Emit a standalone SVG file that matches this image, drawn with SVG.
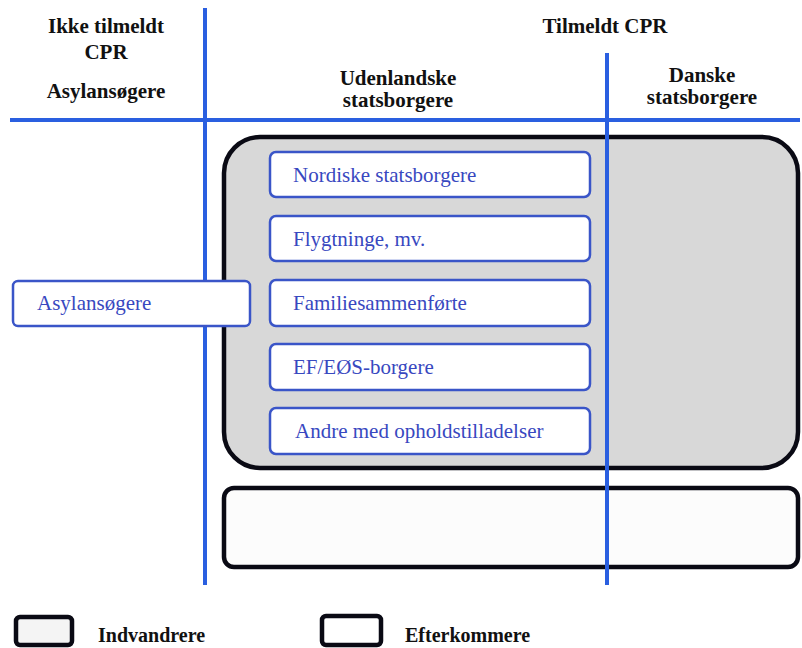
<svg xmlns="http://www.w3.org/2000/svg" width="802" height="648" viewBox="0 0 802 648">
<style>
.h{font-family:"Liberation Serif",serif;font-weight:bold;font-size:21px;fill:#111;text-anchor:middle}
.l{font-family:"Liberation Serif",serif;font-size:21px;fill:#3848c0}
.bx{fill:#fff;stroke:#3a55c8;stroke-width:2.5}
.ax{stroke:#2a5fe0;stroke-width:4;fill:none}
.blk{stroke:#0a0a14;stroke-width:4.5}
</style>
<rect width="802" height="648" fill="#fff"/>
<g id="regions">
<rect id="indvandrere-area" class="blk" x="224" y="137" width="574" height="331" rx="36" fill="#d8d8d8"/>
<rect id="efterkommere-area" class="blk" x="224" y="488" width="574" height="79" rx="10" fill="#fcfcfc"/>
</g>
<g id="axes">
<line class="ax" x1="205" y1="8" x2="205" y2="585"/>
<line class="ax" x1="607" y1="53" x2="607" y2="585"/>
<line class="ax" x1="10" y1="120" x2="800" y2="120"/>
</g>
<g id="headers">
<text class="h" x="106" y="33">Ikke tilmeldt</text>
<text class="h" x="106" y="59">CPR</text>
<text class="h" x="106" y="98">Asylansøgere</text>
<text class="h" x="605" y="33">Tilmeldt CPR</text>
<text class="h" x="398" y="85">Udenlandske</text>
<text class="h" x="398" y="107">statsborgere</text>
<text class="h" x="702" y="82">Danske</text>
<text class="h" x="702" y="104">statsborgere</text>
</g>
<g id="asylansogere"><rect class="bx" x="13" y="281" width="237" height="45" rx="5"/><text class="l" x="37" y="310">Asylansøgere</text></g>
<g id="nordiske"><rect class="bx" x="270" y="152" width="320" height="45" rx="6"/><text class="l" x="293" y="182">Nordiske statsborgere</text></g>
<g id="flygtninge"><rect class="bx" x="270" y="216" width="320" height="45" rx="6"/><text class="l" x="293" y="246">Flygtninge, mv.</text></g>
<g id="familie"><rect class="bx" x="270" y="280" width="320" height="46" rx="6"/><text class="l" x="293" y="310">Familiesammenførte</text></g>
<g id="efeos"><rect class="bx" x="270" y="344" width="320" height="46" rx="6"/><text class="l" x="293" y="374">EF/EØS-borgere</text></g>
<g id="andre"><rect class="bx" x="270" y="408" width="320" height="46" rx="6"/><text class="l" x="295" y="438">Andre med opholdstilladelser</text></g>
<g id="legend">
<rect class="blk" x="16" y="617" width="56" height="28" rx="4" fill="#f4f4f4"/>
<text class="h" x="98" y="642" style="text-anchor:start;font-size:20px">Indvandrere</text>
<rect class="blk" x="322" y="616" width="59" height="29" rx="4" fill="#fff"/>
<text class="h" x="405" y="642" style="text-anchor:start;font-size:20px">Efterkommere</text>
</g>
</svg>
